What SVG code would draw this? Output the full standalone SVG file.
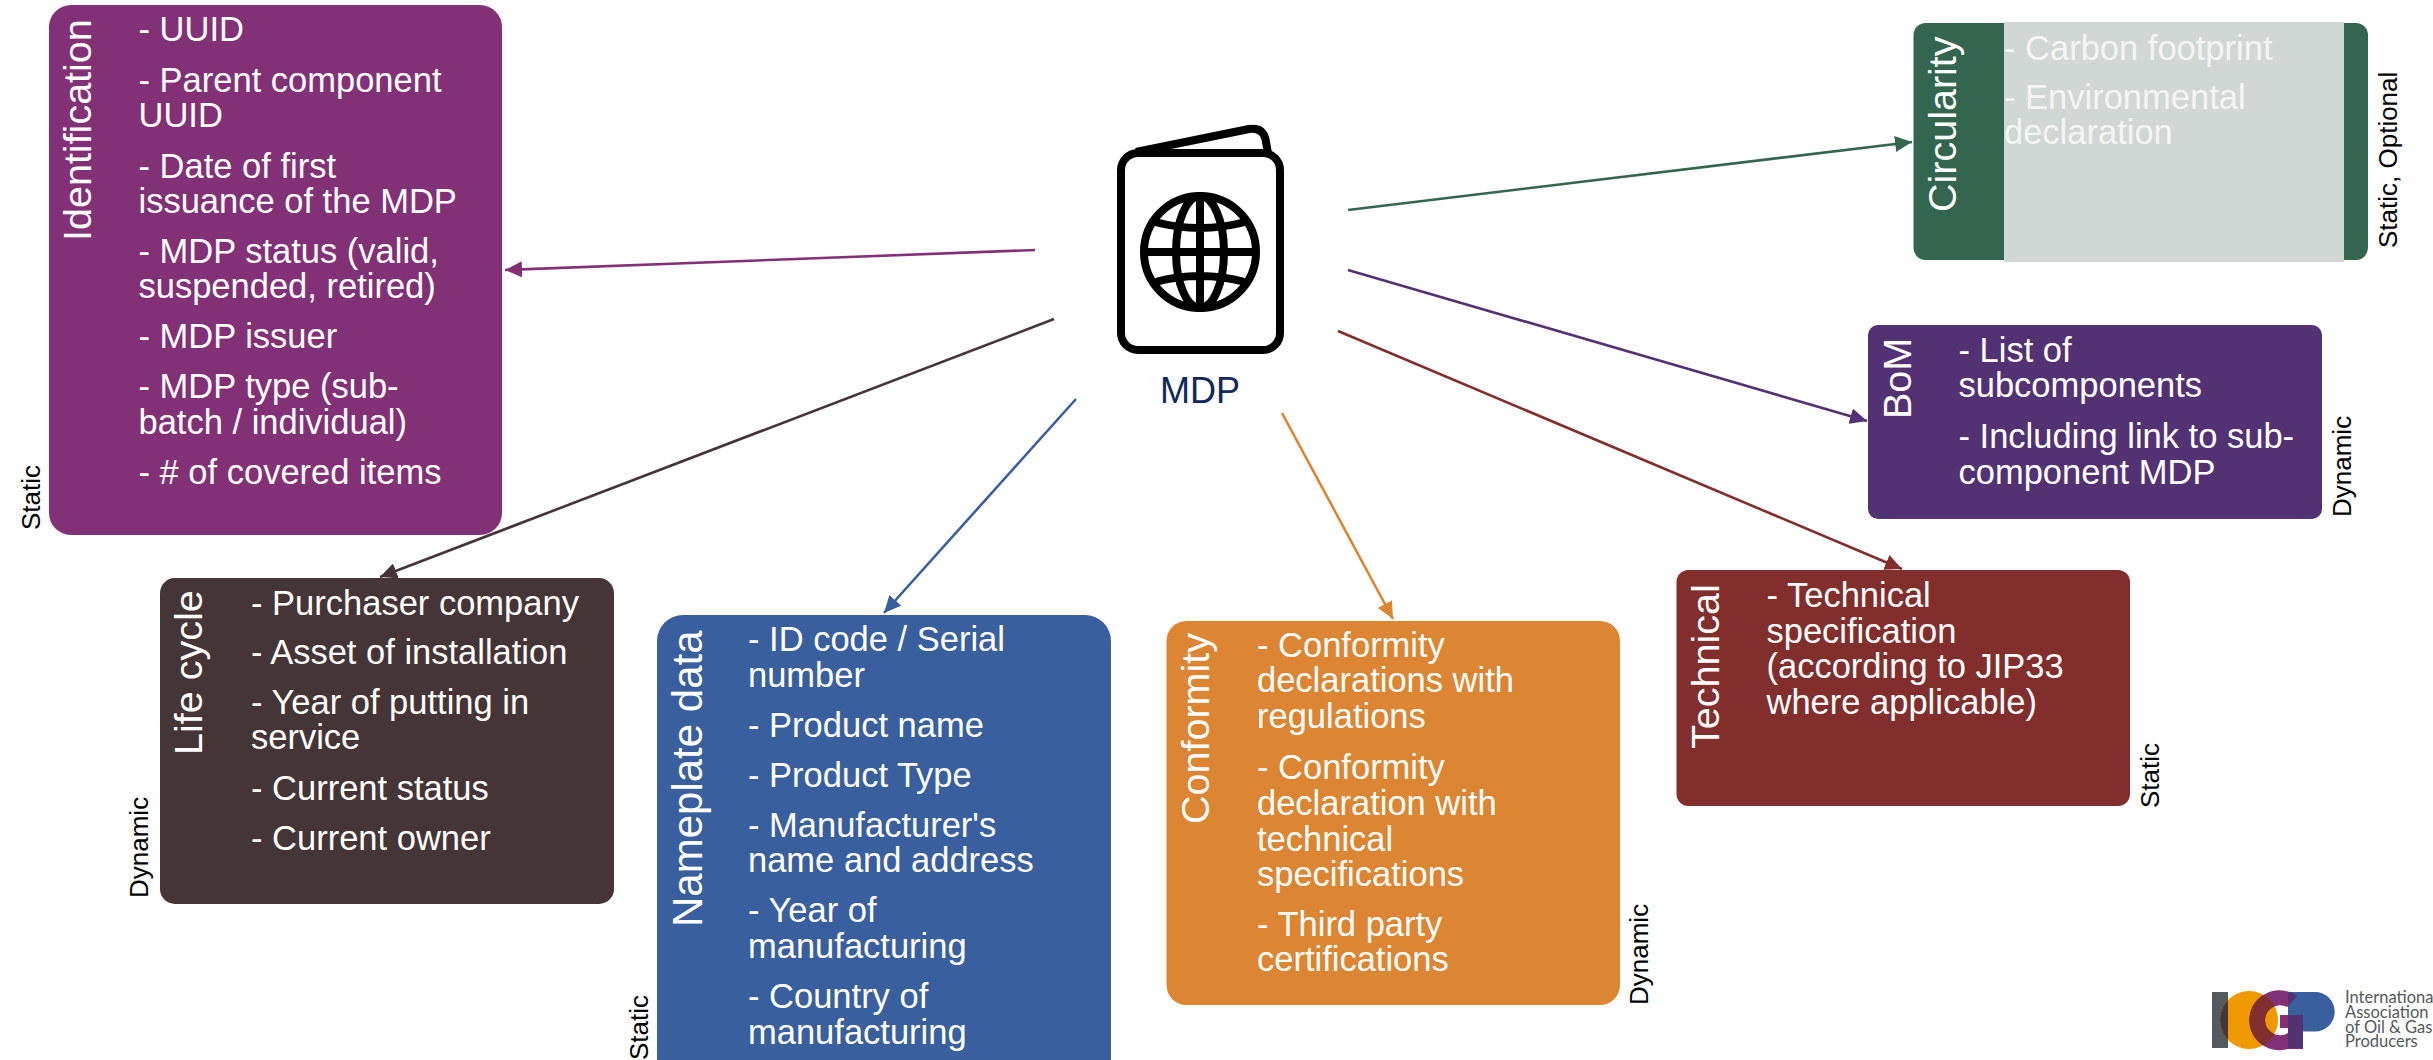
<svg xmlns="http://www.w3.org/2000/svg" width="2433" height="1060" viewBox="0 0 2433 1060">
<style>
text{font-family:"Liberation Sans",Arial,sans-serif}
.b{font-size:34.5px;fill:#fff}
.t{font-size:39.5px;fill:#fff}
.s{font-size:26px;fill:#000}
.c{fill:none;stroke-width:2.6}
</style>
<defs>
<marker id="m1" markerUnits="userSpaceOnUse" markerWidth="18" markerHeight="16" refX="17" refY="8" orient="auto"><path d="M0 0L17 8L0 16Z" fill="#833176"/></marker>
<marker id="m2" markerUnits="userSpaceOnUse" markerWidth="18" markerHeight="16" refX="17" refY="8" orient="auto"><path d="M0 0L17 8L0 16Z" fill="#453536"/></marker>
<marker id="m3" markerUnits="userSpaceOnUse" markerWidth="18" markerHeight="16" refX="17" refY="8" orient="auto"><path d="M0 0L17 8L0 16Z" fill="#3A5F9E"/></marker>
<marker id="m4" markerUnits="userSpaceOnUse" markerWidth="18" markerHeight="16" refX="17" refY="8" orient="auto"><path d="M0 0L17 8L0 16Z" fill="#DC8533"/></marker>
<marker id="m5" markerUnits="userSpaceOnUse" markerWidth="18" markerHeight="16" refX="17" refY="8" orient="auto"><path d="M0 0L17 8L0 16Z" fill="#812E2D"/></marker>
<marker id="m6" markerUnits="userSpaceOnUse" markerWidth="18" markerHeight="16" refX="17" refY="8" orient="auto"><path d="M0 0L17 8L0 16Z" fill="#533274"/></marker>
<marker id="m7" markerUnits="userSpaceOnUse" markerWidth="18" markerHeight="16" refX="17" refY="8" orient="auto"><path d="M0 0L17 8L0 16Z" fill="#33654F"/></marker>
<clipPath id="cO"><circle cx="2249" cy="1020" r="29"/></clipPath>
<clipPath id="cP"><path d="M2288 992H2315A19.7 19.7 0 0 1 2315 1031.400H2303V1048H2288Z"/></clipPath>
</defs>

<g id="connectors">
<line class="c" stroke="#833176" marker-end="url(#m1)" x1="1035" y1="250" x2="505" y2="270"/>
<line class="c" stroke="#453536" marker-end="url(#m2)" x1="1054" y1="319" x2="380" y2="577"/>
<line class="c" stroke="#3A5F9E" marker-end="url(#m3)" x1="1076" y1="399" x2="884" y2="613"/>
<line class="c" stroke="#DC8533" marker-end="url(#m4)" x1="1282" y1="413" x2="1393" y2="619"/>
<line class="c" stroke="#812E2D" marker-end="url(#m5)" x1="1338" y1="331" x2="1902" y2="569"/>
<line class="c" stroke="#533274" marker-end="url(#m6)" x1="1348" y1="270" x2="1867" y2="421"/>
<line class="c" stroke="#33654F" marker-end="url(#m7)" x1="1348" y1="210" x2="1912" y2="142"/>
</g>

<g id="mdp">
<g fill="none" stroke="#000" stroke-width="8">
<rect x="1121" y="153" width="159" height="197" rx="17"/>
<path d="M1136 152L1249 129Q1264 127 1266 142L1268 153" stroke-linejoin="round"/>
<circle cx="1200" cy="252" r="56"/>
<ellipse cx="1200" cy="252" rx="24" ry="56"/>
<path d="M1200 196V308M1146 252H1254M1155 222Q1200 234 1245 222M1155 282Q1200 270 1245 282"/>
</g>
<text x="1200" y="403" text-anchor="middle" font-size="36" fill="#12275A">MDP</text>
</g>

<g id="identification">
<rect x="49" y="5" width="453" height="530" rx="22" fill="#833176"/>
<text class="t" transform="translate(91 241) rotate(-90)">Identification</text>
<text class="b"><tspan x="138.500" y="41">- UUID</tspan><tspan x="138.500" y="92">- Parent component</tspan><tspan x="138.500" y="127">UUID</tspan><tspan x="138.500" y="177.500">- Date of first</tspan><tspan x="138.500" y="213">issuance of the MDP</tspan><tspan x="138.500" y="263">- MDP status (valid,</tspan><tspan x="138.500" y="298">suspended, retired)</tspan><tspan x="138.500" y="348">- MDP issuer</tspan><tspan x="138.500" y="398">- MDP type (sub-</tspan><tspan x="138.500" y="434">batch / individual)</tspan><tspan x="138.500" y="484">- # of covered items</tspan></text>
<text class="s" transform="translate(40 530) rotate(-90)">Static</text>
</g>

<g id="lifecycle">
<rect x="160" y="578" width="454" height="326" rx="15" fill="#453536"/>
<text class="t" transform="translate(202 755) rotate(-90)">Life cycle</text>
<text class="b"><tspan x="251" y="615">- Purchaser company</tspan><tspan x="251" y="664">- Asset of installation</tspan><tspan x="251" y="714">- Year of putting in</tspan><tspan x="251" y="749">service</tspan><tspan x="251" y="800">- Current status</tspan><tspan x="251" y="850">- Current owner</tspan></text>
<text class="s" transform="translate(148 898) rotate(-90)">Dynamic</text>
</g>

<g id="nameplate">
<rect x="657" y="615" width="454" height="480" rx="26" fill="#3A5F9E"/>
<text class="t" style="font-size:42px" transform="translate(702 927) rotate(-90)">Nameplate data</text>
<text class="b"><tspan x="748" y="651">- ID code / Serial</tspan><tspan x="748" y="687">number</tspan><tspan x="748" y="737">- Product name</tspan><tspan x="748" y="787">- Product Type</tspan><tspan x="748" y="837">- Manufacturer's</tspan><tspan x="748" y="872">name and address</tspan><tspan x="748" y="922">- Year of</tspan><tspan x="748" y="958">manufacturing</tspan><tspan x="748" y="1008">- Country of</tspan><tspan x="748" y="1044">manufacturing</tspan></text>
<text class="s" transform="translate(648 1060) rotate(-90)">Static</text>
</g>

<g id="conformity">
<rect x="1166.500" y="621" width="453.500" height="384" rx="20" fill="#DC8533"/>
<text class="t" transform="translate(1209 824) rotate(-90)">Conformity</text>
<text class="b"><tspan x="1257" y="657">- Conformity</tspan><tspan x="1257" y="692">declarations with</tspan><tspan x="1257" y="728">regulations</tspan><tspan x="1257" y="779">- Conformity</tspan><tspan x="1257" y="815">declaration with</tspan><tspan x="1257" y="851">technical</tspan><tspan x="1257" y="886">specifications</tspan><tspan x="1257" y="936">- Third party</tspan><tspan x="1257" y="971">certifications</tspan></text>
<text class="s" transform="translate(1648 1005) rotate(-90)">Dynamic</text>
</g>

<g id="technical">
<rect x="1676.500" y="570" width="453.500" height="236" rx="12" fill="#812E2D"/>
<text class="t" transform="translate(1719 749) rotate(-90)">Technical</text>
<text class="b"><tspan x="1766.500" y="606.500">- Technical</tspan><tspan x="1766.500" y="642.500">specification</tspan><tspan x="1766.500" y="678">(according to JIP33</tspan><tspan x="1766.500" y="714">where applicable)</tspan></text>
<text class="s" transform="translate(2159 808) rotate(-90)">Static</text>
</g>

<g id="bom">
<rect x="1868" y="325" width="454" height="194" rx="10" fill="#533274"/>
<text class="t" transform="translate(1911 419) rotate(-90)">BoM</text>
<text class="b"><tspan x="1958.500" y="362">- List of</tspan><tspan x="1958.500" y="397">subcomponents</tspan><tspan x="1958.500" y="448">- Including link to sub-</tspan><tspan x="1958.500" y="483.500">component MDP</tspan></text>
<text class="s" transform="translate(2351 517) rotate(-90)">Dynamic</text>
</g>

<g id="circularity">
<rect x="1913.500" y="23" width="454.500" height="237" rx="12" fill="#33654F"/>
<rect x="2004" y="22" width="340" height="240" fill="#D1D7D4"/>
<text class="t" transform="translate(1956 212) rotate(-90)">Circularity</text>
<text class="b" style="fill:#F3F5F4"><tspan x="2004" y="60">- Carbon footprint</tspan><tspan x="2004" y="109">- Environmental</tspan><tspan x="2004" y="144">declaration</tspan></text>
<text class="s" transform="translate(2397 248) rotate(-90)">Static, Optional</text>
</g>

<g id="logo">
<rect x="2212" y="992" width="16" height="56" fill="#54595C"/>
<circle cx="2249" cy="1020" r="29" fill="#F09800"/>
<rect x="2212" y="992" width="16" height="56" fill="#453536" clip-path="url(#cO)"/>
<path d="M2288 992H2315A19.700 19.700 0 0 1 2315 1031.400H2303V1048H2288Z" fill="#3A5F9E"/>
<path id="lg" d="M2297 996A30 30 0 1 0 2288 1049L2303 1049V1015H2280V1028H2288V1033A15 15 0 1 1 2287 1007Z" fill="#833176"/>
<path d="M2297 996A30 30 0 1 0 2288 1049L2303 1049V1015H2280V1028H2288V1033A15 15 0 1 1 2287 1007Z" fill="#812E2D" clip-path="url(#cO)"/>
<path d="M2297 996A30 30 0 1 0 2288 1049L2303 1049V1015H2280V1028H2288V1033A15 15 0 1 1 2287 1007Z" fill="#533274" clip-path="url(#cP)"/>
<text font-size="16.500" fill="#54595C" style="font-family:Lato,'Liberation Sans',sans-serif"><tspan x="2345" y="1003">International</tspan><tspan x="2345" y="1018">Association</tspan><tspan x="2345" y="1033">of Oil &amp; Gas</tspan><tspan x="2345" y="1047">Producers</tspan></text>
</g>
</svg>
